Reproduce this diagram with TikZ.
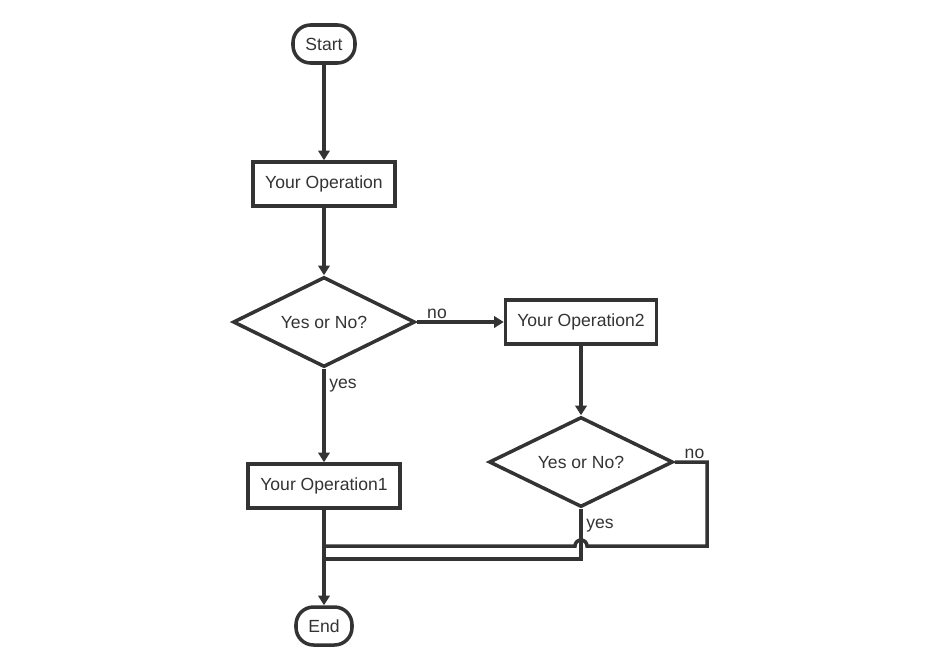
\documentclass[tikz,border=0pt]{standalone}
\usepackage{fontspec}
\setmainfont{Liberation Sans}
\usetikzlibrary{shapes.geometric, arrows.meta}
\definecolor{ink}{HTML}{333333}

\begin{document}
\begin{tikzpicture}[x=0.02cm, y=-0.02cm,
  every node/.style={text=ink, font=\fontsize{10}{12}\selectfont},
  line/.style={draw=ink, line width=2pt},
  flow/.style={line, -{Triangle[length=5.5pt, width=6.5pt]}},
  terminal/.style={line, rectangle, rounded corners=10pt, inner sep=0pt,
    minimum height=38*0.02cm},
  opbox/.style={line, rectangle, inner sep=0pt, minimum height=44*0.02cm},
  test/.style={line, diamond, aspect=2, inner sep=0pt, minimum height=90*0.02cm}]
  \useasboundingbox (0,0) rectangle (942,663);
  % Nodes
  \node[terminal, minimum width=62*0.02cm] (start) at (324,44) {Start};
  \node[opbox, minimum width=142*0.02cm] (op) at (324,184) {Your Operation};
  \node[test, minimum width=182*0.02cm] (ask) at (324,322) {Yes or No?};
  \node[opbox, minimum width=151*0.02cm] (opb) at (581,322) {Your Operation2};
  \node[test, minimum width=184*0.02cm] (askb) at (581,462) {Yes or No?};
  \node[opbox, minimum width=152*0.02cm] (opa) at (324,486) {Your Operation1};
  \node[terminal, minimum width=56*0.02cm] (end) at (324,626) {End};
  % Free ends
  \coordinate (turn) at (707,462);
  \coordinate (corner) at (707,546);
  \coordinate (jumpr) at (587,546);
  \coordinate (jointop) at (324,546);
  \coordinate (drop) at (581,559);
  \coordinate (joinlow) at (324,559);
  % Connectors
  \draw[flow] (start) -- (op);
  \draw[flow] (op) -- (ask);
  \draw[flow] (ask.east) -- node[pos=0.08, above right, inner sep=1pt] {no} (opb.west);
  \draw[flow] (ask.south) -- node[pos=0.05, below right, inner sep=2pt] {yes} (opa.north);
  \draw[flow] (opb) -- (askb);
  \draw[flow] (opa) -- (end);
  % Loop back from the second test
  \draw[line] (askb.east) -- node[above right, pos=0.2, inner sep=1pt] {no} (turn)
    -- (corner) -- (jumpr) arc[start angle=0, end angle=-180, radius=6] -- (jointop);
  \draw[line] (askb.south) -- node[pos=0.1, below right, inner sep=2pt] {yes} (drop)
    -- (joinlow);
\end{tikzpicture}
\end{document}
